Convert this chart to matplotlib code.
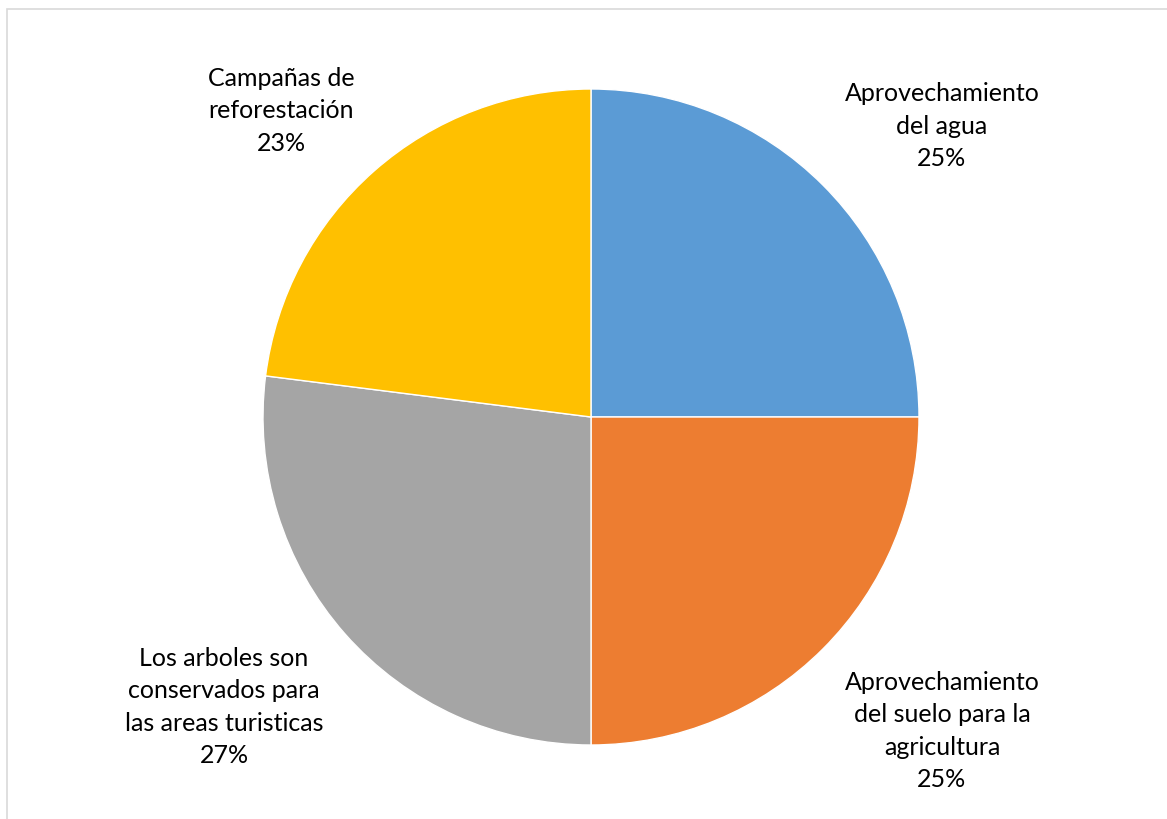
import matplotlib.pyplot as plt
from matplotlib.patches import Rectangle

categories = ['Aprovechamiento\ndel agua',
              'Aprovechamiento\ndel suelo para la\nagricultura',
              'Los arboles son\nconservados para\nlas areas turisticas',
              'Campañas de\nreforestación']
values = [25, 25, 27, 23]
colors = ['#5B9BD5', '#ED7D31', '#A5A5A5', '#FFC000']

W, H = 1167, 819
fig = plt.figure(figsize=(W / 100, H / 100), dpi=100)

# pie centre and radius in pixels
cx, cy, r = 591, 417, 328
ax = fig.add_axes([(cx - r) / W, (H - cy - r) / H, 2 * r / W, 2 * r / H])
wedges, _ = ax.pie(values, colors=colors, startangle=90, counterclock=False,
                   radius=1, wedgeprops=dict(edgecolor='white', linewidth=1))
ax.set_xlim(-1, 1)
ax.set_ylim(-1, 1)
ax.set_aspect('equal')
ax.axis('off')

# label centres in pixels
label_pos = [(942, 126), (942, 731), (224, 707), (281, 111)]
total = sum(values)
for cat, val, (px, py) in zip(categories, values, label_pos):
    fig.text(px / W, 1 - py / H, '{0}\n{1:.0f}%'.format(cat, val / total * 100),
             ha='center', va='center', fontsize=18, family='Lato',
             color='#000000', linespacing=1.5)

# chart area border (only top and left visible)
fig.patches.append(Rectangle((7 / W, -0.1), 1.2, 1 - 9 / H + 0.1,
                             transform=fig.transFigure, fill=False,
                             edgecolor='#D9D9D9', linewidth=1.2))

fig.savefig('out.png', dpi=100)
